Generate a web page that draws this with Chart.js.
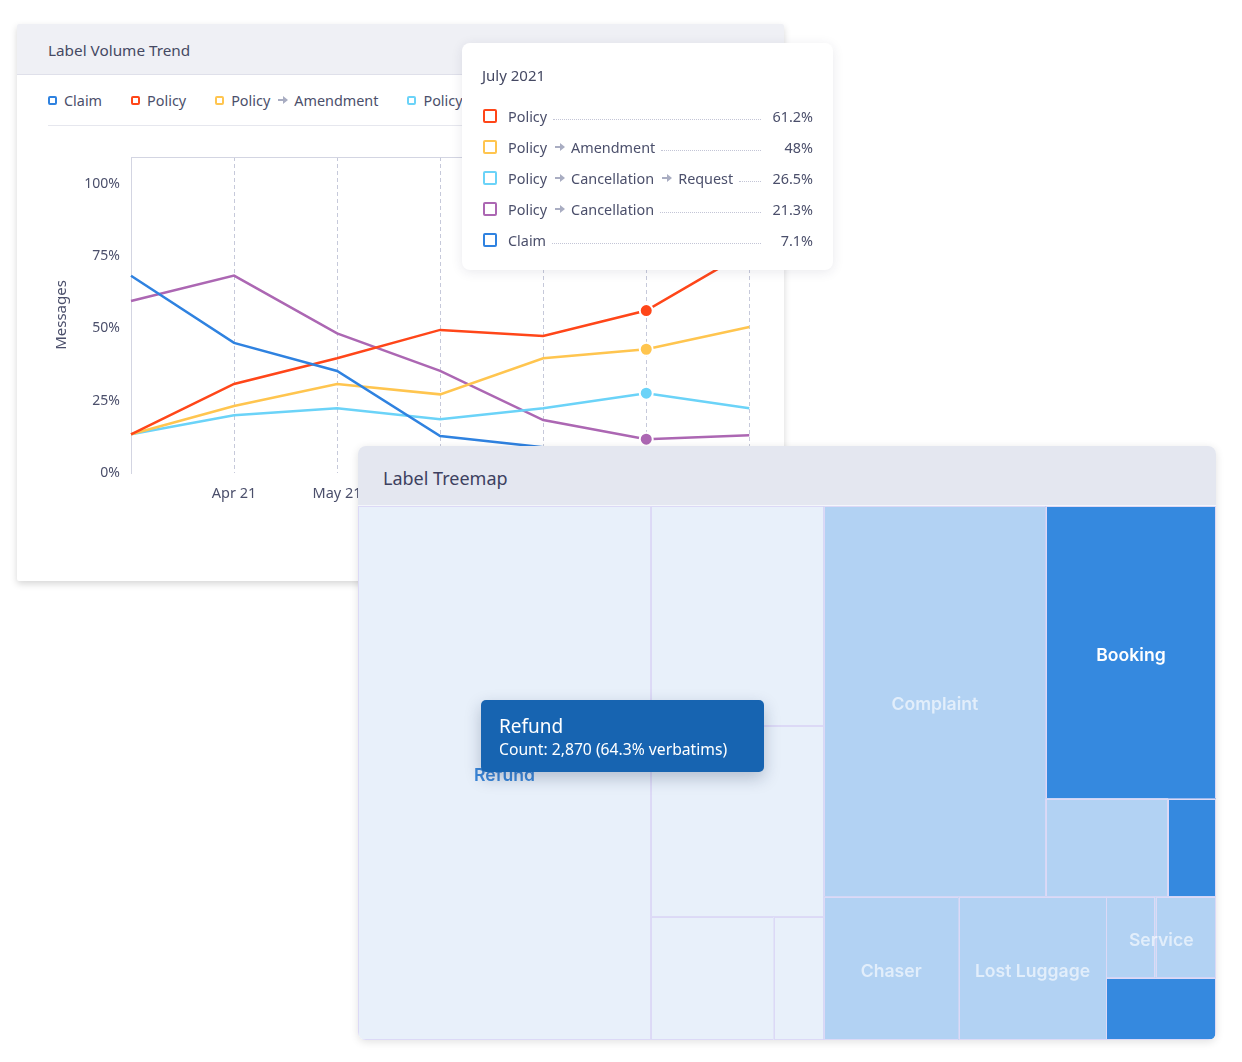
<!DOCTYPE html>
<html>
<head>
<meta charset="utf-8">
<script src="https://cdn.jsdelivr.net/npm/chart.js@4.4.0/dist/chart.umd.min.js"></script>
<style>
  body { margin: 0; width: 1242px; height: 1062px; background: #fff; position: relative; overflow: hidden; font-family: "Noto Sans", sans-serif; color: #4b4f6b; }
  .card { position: absolute; background: #fff; border-radius: 6px; overflow: hidden; }
  #trendCard { left: 17px; top: 24px; width: 767px; height: 557px; box-shadow: 0 3px 7px rgba(0,0,0,0.16); border-radius: 2px; }
  #trendCard .head { height: 50px; background: #eff0f5; border-bottom: 1px solid #dfe0ea; font-size: 15.3px; line-height: 52px; padding-left: 31px; color: #454963; }
  #legend { position: absolute; left: 31px; top: 51px; height: 50px; right: 0; border-bottom: 1px solid #e6e7ee; display: flex; align-items: center; font-size: 14.4px; white-space: nowrap; }
  .lg { display: flex; align-items: center; margin-right: 29px; }
  .lg .sq { width: 5px; height: 5px; border: 2px solid; border-radius: 2px; margin-right: 7px; }
  .arr { display: inline-block; margin: 0 6px 0 8px; vertical-align: middle; }
  #trendCanvas { position: absolute; left: 0; top: 102px; }
  #tip { left: 462px; top: 43px; width: 371px; height: 227px; border-radius: 8px; box-shadow: 0 2px 12px rgba(40,40,80,0.10); }
  #tip .title { position: absolute; left: 20px; top: 22px; font-size: 15px; color: #454963; }
  .row { position: absolute; left: 21px; right: 20px; height: 22px; display: flex; align-items: center; font-size: 14.4px; }
  .row .sq { width: 10px; height: 10px; border: 2px solid; border-radius: 2px; margin-right: 11px; flex: none; }
  .row .dots { flex: 1; border-bottom: 1px dotted #c3c5d6; margin: 6px 10px 0 6px; height: 0; }
  .row .val { width: 42px; text-align: right; }
  #treeCard { left: 358px; top: 446px; width: 858px; height: 594px; border-radius: 8px; box-shadow: 0 2px 8px rgba(0,0,0,0.12); }
  #treeCard .head { height: 59px; background: #e4e7f0; border-bottom: 1px solid #f4f6fb; font-size: 18px; line-height: 64px; padding-left: 25px; color: #3d4160; }
  #treeCanvas { position: absolute; left: 0; top: 60px; }
  #treeTip { position: absolute; left: 481px; top: 700px; width: 283px; height: 72px; background: #1764b1; border-radius: 5px; color: #fff; box-shadow: 0 6px 16px rgba(20,40,80,0.25); }
  #treeTip .t1 { position: absolute; left: 18px; top: 13px; font-size: 19px; }
  #treeTip .t2 { position: absolute; left: 18px; top: 38px; font-size: 15.7px; }
</style>
</head>
<body>

<div class="card" id="trendCard">
  <div class="head">Label Volume Trend</div>
  <div id="legend"></div>
  <canvas id="trendCanvas" width="767" height="455"></canvas>
</div>

<div class="card" id="tip">
  <div class="title">July 2021</div>
</div>

<div class="card" id="treeCard">
  <div class="head">Label Treemap</div>
  <canvas id="treeCanvas" width="858" height="534"></canvas>
</div>

<div id="treeTip">
  <div class="t1">Refund</div>
  <div class="t2">Count: 2,870 (64.3% verbatims)</div>
</div>

<script>
// line chart data
const monthLabels = ['', 'Apr 21', 'May 21', 'Jun 21', 'Jul 21', 'Aug 21', 'Sep 21'];
const claim = [68.2, 45.0, 35.3, 12.8, 8.9, 7.1, 6.0];
const policy = [13.4, 30.8, 39.7, 49.5, 47.4, 56.2, 76.9];
const policyAmendment = [13.4, 23.2, 30.8, 27.2, 39.7, 42.8, 50.5];
const policyCancelRequest = [13.4, 20.0, 22.4, 18.6, 22.4, 27.6, 22.4];
const policyCancellation = [59.5, 68.3, 48.3, 35.3, 18.3, 11.7, 13.1];
const highlightIndex = 5;

// tooltip card (July 2021)
const tipNames = [['Policy'], ['Policy', 'Amendment'], ['Policy', 'Cancellation', 'Request'], ['Policy', 'Cancellation'], ['Claim']];
const tipValues = ['61.2%', '48%', '26.5%', '21.3%', '7.1%'];

// treemap data
const cellLabels = ['Refund', '', '', '', '', 'Complaint', 'Booking', '', '', 'Chaser', 'Lost Luggage', '', '', ''];
const cellCounts = [1565, 381, 330, 151, 62, 868, 498, 120, 47, 193, 212, 40, 49, 68];
const cellTier = [0, 0, 0, 0, 0, 1, 2, 1, 2, 1, 1, 1, 1, 2];
const treemapTree = {dir: 'h', kids: [
  {dir: 'h', kids: [0, {dir: 'v', kids: [1, 2, {dir: 'h', kids: [3, 4]}]}]},
  {dir: 'v', kids: [
    {dir: 'h', kids: [5, {dir: 'v', kids: [6, {dir: 'h', kids: [7, 8]}]}]},
    {dir: 'h', kids: [9, 10, {dir: 'v', kids: [{dir: 'h', label: 'Service', kids: [11, 12]}, 13]}]}
  ]}
]};

const series = [
  {names: ['Claim'], data: claim, color: '#2f82e0'},
  {names: ['Policy'], data: policy, color: '#ff4619'},
  {names: ['Policy', 'Amendment'], data: policyAmendment, color: '#ffc54f'},
  {names: ['Policy', 'Cancellation', 'Request'], data: policyCancelRequest, color: '#6bd3f8'},
  {names: ['Policy', 'Cancellation'], data: policyCancellation, color: '#ac67b3'}
];
const tipColors = ['#ff4619', '#ffc54f', '#6bd3f8', '#ac67b3', '#2f82e0'];

const arrowSvg = '<svg class="arr" width="10" height="10" viewBox="0 0 10 10"><path d="M0 4h5V1l5 4-5 4V6H0z" fill="#a9adc2"/></svg>';
const joinNames = n => n.map((s, i) => (i ? arrowSvg : '') + '<span>' + s + '</span>').join('');

// legend
const legend = document.getElementById('legend');
series.forEach(s => {
  const d = document.createElement('div');
  d.className = 'lg';
  d.innerHTML = '<span class="sq" style="border-color:' + s.color + '"></span>' + joinNames(s.names);
  legend.appendChild(d);
});

// tooltip card rows
const tip = document.getElementById('tip');
tipNames.forEach((n, i) => {
  const r = document.createElement('div');
  r.className = 'row';
  r.style.top = (62 + i * 31) + 'px';
  r.innerHTML = '<span class="sq" style="border-color:' + tipColors[i] + '"></span>' + joinNames(n) +
    '<span class="dots"></span><span class="val">' + tipValues[i] + '</span>';
  tip.appendChild(r);
});

Chart.defaults.font.family = '"Noto Sans", sans-serif';
Chart.defaults.color = '#5a5e7a';

new Chart(document.getElementById('trendCanvas'), {
  type: 'line',
  data: {
    labels: monthLabels,
    datasets: series.map(s => ({
      label: s.names.join(' > '),
      data: s.data,
      borderColor: s.color,
      backgroundColor: s.color,
      borderWidth: 2.5,
      tension: 0,
      pointRadius: ctx => ctx.dataIndex === highlightIndex && s.names[0] === 'Policy' ? 6.5 : 0,
      pointBorderColor: '#fff',
      pointBorderWidth: 2
    }))
  },
  options: {
    responsive: false,
    animation: false,
    layout: { padding: { left: 36, right: 32, top: 31, bottom: 68 } },
    plugins: { legend: { display: false }, tooltip: { enabled: false } },
    scales: {
      x: {
        offset: false,
        grid: {
          color: ctx => ctx.index === 0 ? 'transparent' : '#c6c9da',
          drawTicks: false
        },
        border: { display: false, dash: [4, 3] },
        ticks: { padding: 12, autoSkip: false, maxRotation: 0, font: { size: 14.5 }, color: '#4b4f6b' },
        afterFit: s => { s.height = 40; }
      },
      x2: {
        position: 'top',
        grid: { display: false, drawTicks: false },
        ticks: { display: false },
        border: { color: '#d3d5e2' },
        afterFit: s => { s.height = 0; }
      },
      y: {
        min: 0,
        max: 109.3,
        ticks: { stepSize: 25, padding: 11, font: { size: 14 }, color: '#4b4f6b', callback: v => v + '%' },
        afterBuildTicks: s => { s.ticks = s.ticks.filter(t => t.value % 25 === 0); },
        grid: { display: false, drawTicks: false },
        border: { color: '#d3d5e2' },
        title: { display: true, text: 'Messages', font: { size: 15 }, color: '#4b4f6b', padding: { top: 0, bottom: 4 } },
        afterFit: s => { s.width = 78; }
      }
    }
  }
});

// treemap: slice-and-dice layout in [0,1] units, mapped through the chart scales
const weight = n => typeof n === 'number' ? cellCounts[n] : n.kids.reduce((a, k) => a + weight(k), 0);
function layout(node, x0, y0, x1, y1, cells, labels) {
  if (typeof node === 'number') { cells.push({i: node, x0, y0, x1, y1}); return; }
  const total = weight(node);
  let pos = node.dir === 'h' ? x0 : y0;
  node.kids.forEach(k => {
    const f = weight(k) / total;
    if (node.dir === 'h') {
      const nx = pos + f * (x1 - x0);
      layout(k, pos, y0, nx, y1, cells, labels);
      pos = nx;
    } else {
      const ny = pos + f * (y1 - y0);
      layout(k, x0, pos, x1, ny, cells, labels);
      pos = ny;
    }
  });
  if (node.label) labels.push({text: node.label, x0, y0, x1, y1, tier: 1});
}

const tierFill = ['#e8f0fa', '#b2d2f3', '#3589df'];
const tierText = ['#3a86d8', 'rgba(255,255,255,0.62)', '#ffffff'];

const treemapPlugin = {
  id: 'treemapCells',
  afterDatasetsDraw(chart) {
    const {ctx, scales: {x, y}} = chart;
    const cells = [], labels = [];
    layout(treemapTree, 0, 0, 1, 1, cells, labels);
    cells.forEach(c => {
      if (cellLabels[c.i]) labels.push({text: cellLabels[c.i], x0: c.x0, y0: c.y0, x1: c.x1, y1: c.y1, tier: cellTier[c.i]});
    });
    ctx.save();
    cells.forEach(c => {
      const px0 = x.getPixelForValue(c.x0), px1 = x.getPixelForValue(c.x1);
      const py0 = y.getPixelForValue(c.y0), py1 = y.getPixelForValue(c.y1);
      ctx.fillStyle = tierFill[cellTier[c.i]];
      ctx.fillRect(px0, py0, px1 - px0, py1 - py0);
      ctx.strokeStyle = '#dcd9f6';
      ctx.lineWidth = 1;
      ctx.strokeRect(Math.round(px0) + 0.5, Math.round(py0) + 0.5, Math.round(px1 - px0) - 1, Math.round(py1 - py0) - 1);
    });
    ctx.font = '600 17.6px Inter, sans-serif';
    ctx.textAlign = 'center';
    ctx.textBaseline = 'middle';
    labels.forEach(l => {
      const cx = x.getPixelForValue((l.x0 + l.x1) / 2);
      const cy = y.getPixelForValue((l.y0 + l.y1) / 2);
      ctx.fillStyle = tierText[l.tier];
      ctx.fillText(l.text, cx, cy + 3);
    });
    ctx.restore();
  }
};

new Chart(document.getElementById('treeCanvas'), {
  type: 'scatter',
  data: { datasets: [] },
  options: {
    responsive: false,
    animation: false,
    layout: { padding: 0 },
    plugins: { legend: { display: false }, tooltip: { enabled: false } },
    scales: {
      x: { type: 'linear', min: 0, max: 1, display: false },
      y: { type: 'linear', min: 0, max: 1, reverse: true, display: false }
    }
  },
  plugins: [treemapPlugin]
});
</script>
</body>
</html>
